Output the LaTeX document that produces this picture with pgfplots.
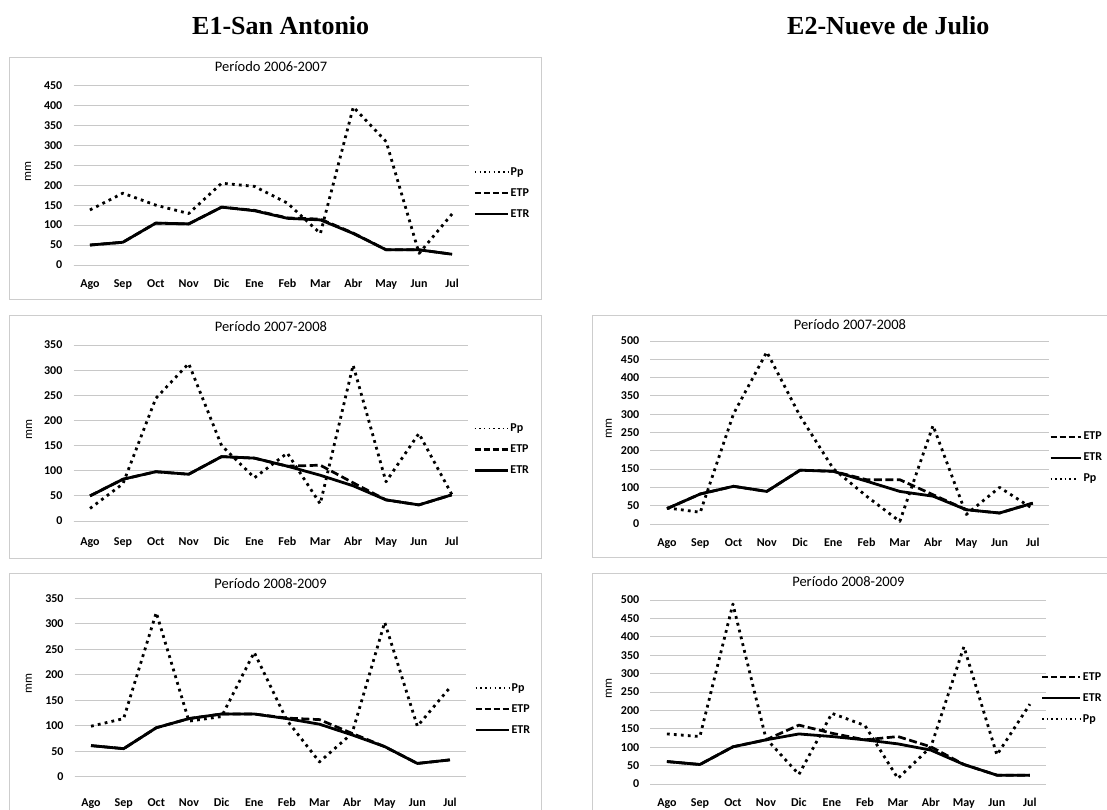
\documentclass[border=0pt]{standalone}
\usepackage{pgfplots}
\pgfplotsset{compat=1.18}
\usepackage{fontspec}
\setmainfont{Carlito}
\newfontfamily\hdrfont{Liberation Serif}

\definecolor{gridc}{RGB}{200,200,200}
\definecolor{framec}{RGB}{205,205,205}

\tikzset{
  ppline/.style={black, line width=2.8pt, line cap=butt, line join=round, dash pattern=on 2.8pt off 4.2pt},
  etpline/.style={black, line width=2.7pt, line join=round, dash pattern=on 8pt off 3.5pt},
  etrline/.style={black, line width=2.8pt, line join=round},
}

\pgfplotsset{
  excel/.style={
    scale only axis,
    xmin=-0.5, xmax=11.5,
    xtick={0,...,11},
    xticklabels={Ago,Sep,Oct,Nov,Dic,Ene,Feb,Mar,Abr,May,Jun,Jul},
    ymin=0,
    ymajorgrids,
    grid style={gridc, line width=0.9pt},
    axis x line=bottom, axis y line=left,
    x axis line style={gridc, line width=0.9pt, -},
    y axis line style={draw=none},
    major tick length=0pt,
    tick style={draw=none},
    ticklabel style={font=\bfseries\fontsize{12}{14}\selectfont},
    yticklabel style={anchor=east, inner sep=0pt, xshift=-11pt},
    /pgf/number format/assume math mode=true,
    ylabel={mm},
    ylabel style={font=\fontsize{12.5}{14}\selectfont, anchor=center},
    title style={font=\fontsize{14.5}{16}\selectfont, anchor=base, inner sep=0pt, at={(0.5,1)}},
    legend style={draw=none, fill=none, font=\bfseries\fontsize{12}{14}\selectfont, anchor=west, inner sep=0pt,
      row sep=7pt, nodes={inner sep=1.5pt, text height=8.5pt, text depth=2.5pt}},
    legend cell align=left,
  },
  pplegend/.style={legend image code/.code={\draw[black, line width=1.5pt, line cap=butt, dash pattern=on 1.5pt off 3.2pt] (0pt,0pt) -- (#1,0pt);}},
  etplegend/.style={legend image code/.code={\draw[black, line width=2.7pt, dash pattern=on 6pt off 3pt] (0pt,0pt) -- (#1,0pt);}},
  etrlegend/.style={legend image code/.code={\draw[black, line width=2.8pt] (0pt,0pt) -- (#1,0pt);}},
}

\begin{document}
\begin{tikzpicture}[x=1pt,y=1pt]
\useasboundingbox (0pt,0pt) rectangle (1107pt,810pt);
\clip (0pt,0pt) rectangle (1107pt,810pt);
\fill[white] (0pt,0pt) rectangle (1107pt,810pt);

% headers
\node[font=\hdrfont\bfseries\fontsize{26}{30}\selectfont, anchor=base west, inner sep=0pt] at (192pt,775pt) {E1-San Antonio};
\node[font=\hdrfont\bfseries\fontsize{26}{30}\selectfont, anchor=base west, inner sep=0pt] at (787pt,775pt) {E2-Nueve de Julio};

% frames
\draw[framec, line width=0.8pt] (9pt,511pt) rectangle (541pt,753pt);
\draw[framec, line width=0.8pt] (9pt,252pt) rectangle (541pt,495pt);
\draw[framec, line width=0.8pt] (9pt,-10pt) rectangle (541pt,237pt);
\draw[framec, line width=0.8pt] (592pt,253pt) rectangle (1130pt,495pt);
\draw[framec, line width=0.8pt] (592pt,-10pt) rectangle (1130pt,237pt);

% ---------- E1 2006-2007
\begin{axis}[excel, at={(73.5pt,545pt)}, anchor=south west, width=395pt, height=179.5pt,
  ymax=450, ytick={0,50,...,450},
  title={Período 2006-2007}, title style={yshift=7.6pt},
  xticklabel style={anchor=base, yshift=-22.9pt},
  ylabel style={at={(axis description cs:-0.115,0.52)}},
  legend style={at={(axis description cs:1.012,0.401)}}]
\addplot[ppline, pplegend=33pt] coordinates {(0,138) (1,180) (2,150) (3,129) (4,205) (5,197) (6,155) (7,79) (8,396) (9,309) (10,29) (11,128)};
\addlegendentry{Pp}
\addplot[etpline, etplegend=33pt] coordinates {(0,50) (1,57) (2,105) (3,103) (4,145) (5,137) (6,118) (7,115) (8,80) (9,38) (10,38) (11,27)};
\addlegendentry{ETP}
\addplot[etrline, etrlegend=33pt] coordinates {(0,50) (1,57) (2,105) (3,103) (4,145) (5,136) (6,117) (7,113) (8,79) (9,38) (10,38) (11,27)};
\addlegendentry{ETR}
\end{axis}

% ---------- E1 2007-2008
\begin{axis}[excel, at={(73.6pt,289pt)}, anchor=south west, width=394.6pt, height=176pt,
  ymax=350, ytick={0,50,...,350},
  title={Período 2007-2008}, title style={yshift=7.7pt},
  xticklabel style={anchor=base, yshift=-24.6pt},
  ylabel style={at={(axis description cs:-0.113,0.52)}},
  legend style={at={(axis description cs:1.012,0.405)}}]
\addplot[ppline, pplegend=33pt] coordinates {(0,25) (1,74) (2,244) (3,313) (4,150) (5,86) (6,135) (7,34) (8,310) (9,78) (10,174) (11,53)};
\addlegendentry{Pp}
\addplot[etpline, etplegend=33pt] coordinates {(0,50) (1,83) (2,98) (3,93) (4,128) (5,125) (6,109) (7,111) (8,76) (9,42) (10,32) (11,52)};
\addlegendentry{ETP}
\addplot[etrline, etrlegend=33pt] coordinates {(0,50) (1,83) (2,98) (3,93) (4,128) (5,125) (6,109) (7,91) (8,70) (9,42) (10,32) (11,52)};
\addlegendentry{ETR}
\end{axis}

% ---------- E1 2008-2009
\begin{axis}[excel, at={(74.7pt,33.3pt)}, anchor=south west, width=391.6pt, height=178.4pt,
  ymax=350, ytick={0,50,...,350},
  title={Período 2008-2009}, title style={yshift=3.7pt},
  xticklabel style={anchor=base, yshift=-29.5pt},
  ylabel style={at={(axis description cs:-0.117,0.52)}},
  legend style={at={(axis description cs:1.02,0.379)}}]
\addplot[ppline, pplegend=33pt] coordinates {(0,99) (1,114) (2,322) (3,109) (4,118) (5,244) (6,111) (7,29) (8,85) (9,303) (10,99) (11,175)};
\addlegendentry{Pp}
\addplot[etpline, etplegend=33pt] coordinates {(0,61) (1,55) (2,96) (3,114) (4,123) (5,123) (6,115) (7,112) (8,85) (9,59) (10,26) (11,33)};
\addlegendentry{ETP}
\addplot[etrline, etrlegend=33pt] coordinates {(0,61) (1,55) (2,96) (3,114) (4,123) (5,123) (6,114) (7,103) (8,82) (9,59) (10,26) (11,33)};
\addlegendentry{ETR}
\end{axis}

% ---------- E2 2007-2008
\begin{axis}[excel, at={(650.4pt,286pt)}, anchor=south west, width=399pt, height=183pt,
  ymax=500, ytick={0,50,...,500},
  title={Período 2007-2008}, title style={yshift=5.4pt},
  xticklabel style={anchor=base, yshift=-22.2pt},
  ylabel style={at={(axis description cs:-0.104,0.52)}},
  legend style={at={(axis description cs:0.999,0.361)}}]
\addplot[etpline, etplegend=30pt] coordinates {(0,42) (1,82) (2,103) (3,89) (4,147) (5,144) (6,121) (7,121) (8,80) (9,39) (10,30) (11,57)};
\addlegendentry{ETP}
\addplot[etrline, etrlegend=30pt] coordinates {(0,42) (1,82) (2,103) (3,89) (4,147) (5,144) (6,117) (7,89) (8,76) (9,39) (10,30) (11,57)};
\addlegendentry{ETR}
\addplot[ppline, pplegend=26pt] coordinates {(0,44) (1,32) (2,301) (3,470) (4,295) (5,151) (6,76) (7,7) (8,269) (9,26) (10,100) (11,42)};
\addlegendentry{Pp}
\end{axis}

% ---------- E2 2008-2009
\begin{axis}[excel, at={(650.4pt,26pt)}, anchor=south west, width=396pt, height=184pt,
  ymax=500, ytick={0,50,...,500},
  title={Período 2008-2009}, title style={yshift=7.1pt},
  xticklabel style={anchor=base, yshift=-22.2pt},
  ylabel style={at={(axis description cs:-0.105,0.52)}},
  legend style={at={(axis description cs:0.985,0.467)}}]
\addplot[etpline, etplegend=38pt] coordinates {(0,61) (1,53) (2,101) (3,120) (4,160) (5,138) (6,120) (7,129) (8,101) (9,53) (10,24) (11,24)};
\addlegendentry{ETP}
\addplot[etrline, etrlegend=38pt] coordinates {(0,61) (1,53) (2,101) (3,120) (4,136) (5,129) (6,120) (7,109) (8,92) (9,53) (10,24) (11,24)};
\addlegendentry{ETR}
\addplot[ppline, pplegend=38pt] coordinates {(0,136) (1,129) (2,489) (3,124) (4,26) (5,192) (6,159) (7,15) (8,101) (9,373) (10,79) (11,217)};
\addlegendentry{Pp}
\end{axis}
\end{tikzpicture}
\end{document}
